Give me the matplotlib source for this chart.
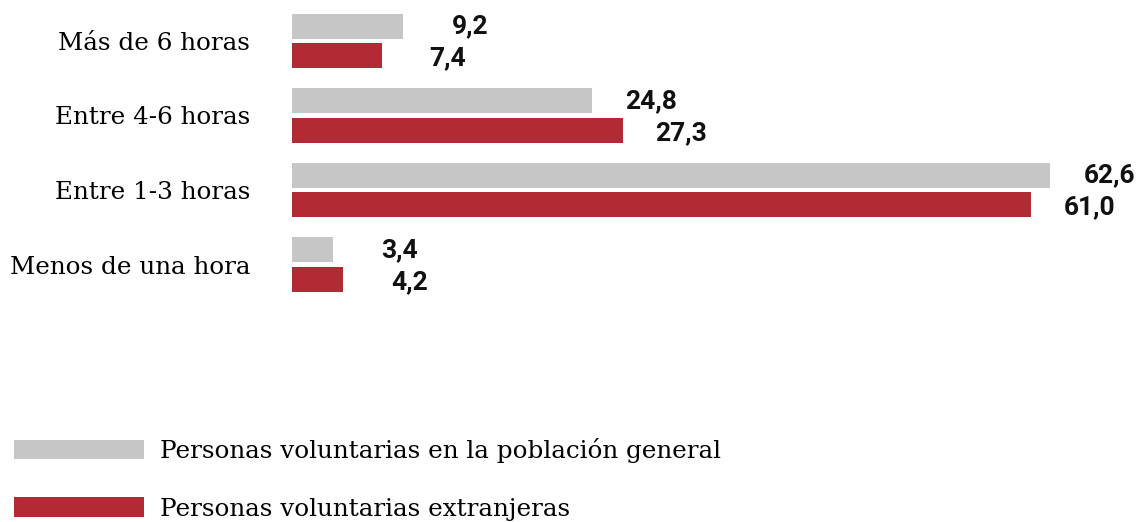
import matplotlib.pyplot as plt
import numpy as np

categories = ["Más de 6 horas", "Entre 4-6 horas", "Entre 1-3 horas", "Menos de una hora"]
general = [9.2, 24.8, 62.6, 3.4]
extranjeras = [7.4, 27.3, 61.0, 4.2]
series_names = ["Personas voluntarias en la población general",
                "Personas voluntarias extranjeras"]

gray = "#c6c6c6"
red = "#b22a33"

fig = plt.figure(figsize=(11.37, 5.22), dpi=100)
ax = fig.add_axes([292 / 1137, 0, 1 - 292 / 1137, 1])

y = np.arange(len(categories))
h = 0.336
off = 0.195
b1 = ax.barh(y - off, general, height=h, color=gray, label=series_names[0])
b2 = ax.barh(y + off, extranjeras, height=h, color=red, label=series_names[1])

ax.set_xlim(0, (1137 - 292) / 12.11)
ax.set_ylim((522 - 41) / 74.5, -41 / 74.5)

fs = 17.7
ax.set_yticks(y)
ax.set_yticklabels(categories, family="DejaVu Serif", fontsize=fs)
ax.tick_params(axis="y", length=0, pad=30)
ax.set_xticks([])
for s in ax.spines.values():
    s.set_visible(False)

for bars, vals, dy in [(b1, general, 0), (b2, extranjeras, 2)]:
    for rect, v in zip(bars, vals):
        ax.annotate(f"{v:.1f}".replace(".", ","),
                    xy=(rect.get_width(), rect.get_y() + rect.get_height() / 2),
                    xytext=(61, -dy), textcoords="offset points",
                    ha="right", va="center", family="Roboto",
                    fontweight="bold", fontsize=19, color="#111111")

leg = fig.legend(handles=[b1, b2], loc="upper left",
                 bbox_to_anchor=(14 / 1137, 1 - 438 / 522),
                 frameon=False, borderpad=0, borderaxespad=0,
                 handlelength=5.3, handleheight=0.86,
                 handletextpad=0.62, labelspacing=1.39,
                 prop={"family": "DejaVu Serif", "size": fs})

fig.savefig("out.png", dpi=100)
